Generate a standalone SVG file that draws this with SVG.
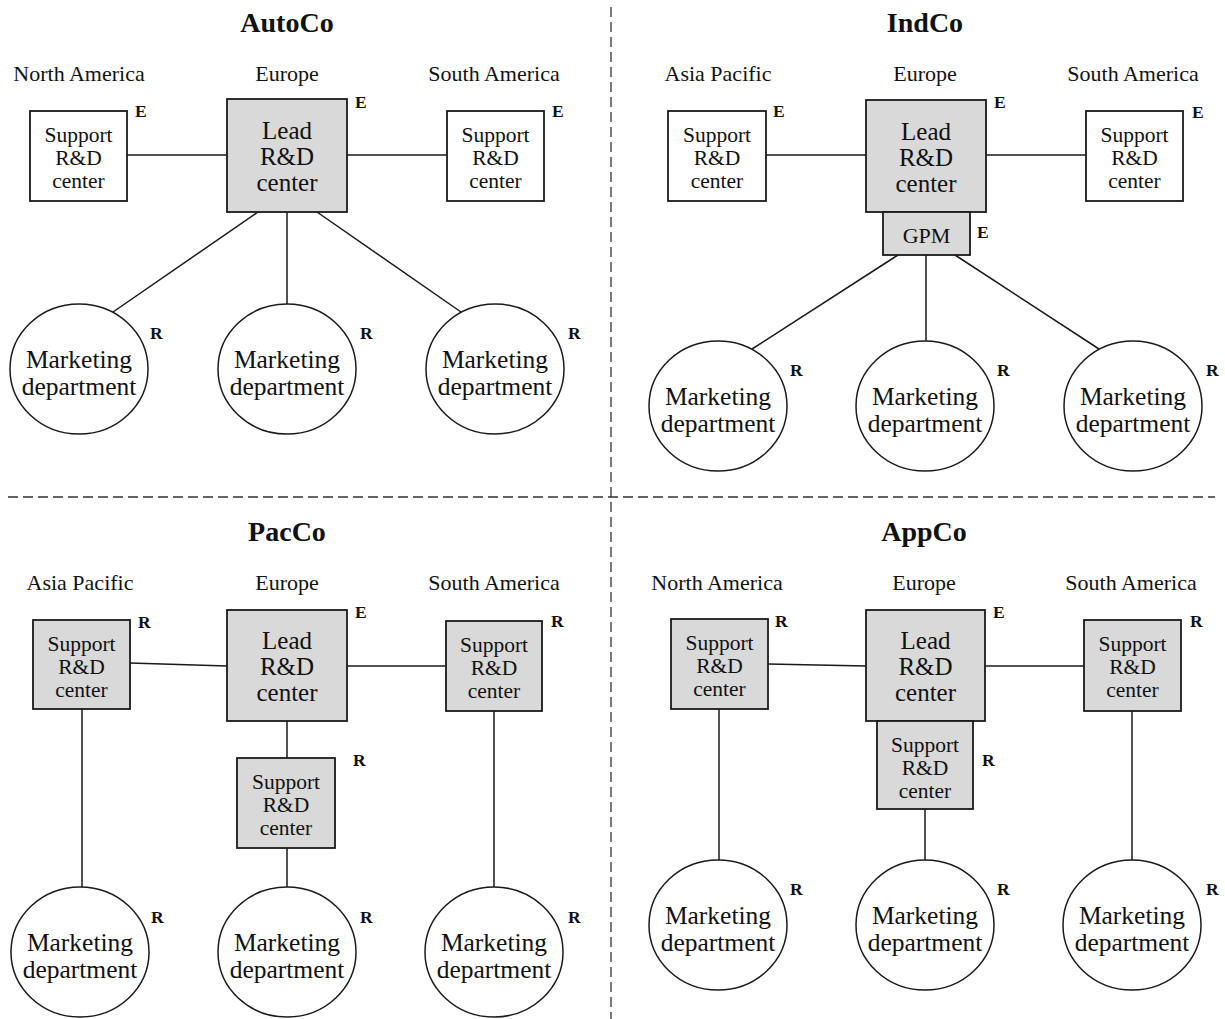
<svg xmlns="http://www.w3.org/2000/svg" width="1225" height="1019" viewBox="0 0 1225 1019">
<style>
text{font-family:"Liberation Serif","Times New Roman",serif;fill:#111}
.title{font-size:28px;font-weight:bold;text-anchor:middle}
.reg{font-size:22px;text-anchor:middle}
.bx{font-size:21.5px;text-anchor:middle}
.ld{font-size:25px;text-anchor:middle}
.mk{font-size:25.5px;text-anchor:middle}
.tag{font-size:17.5px;font-weight:bold}
.w{fill:#fff;stroke:#1a1a1a;stroke-width:1.8}
.g{fill:#d9d9d9;stroke:#1a1a1a;stroke-width:1.8}
.c{fill:#fff;stroke:#1a1a1a;stroke-width:1.5}
.ln{stroke:#1a1a1a;stroke-width:1.5;fill:none}
.dv{stroke:#333;stroke-width:1.3;stroke-dasharray:10 5;fill:none}
</style>
<rect width="1225" height="1019" fill="#fff"/>
<g id="dividers">
<path class="dv" d="M611 7V1019"/>
<path class="dv" d="M8 497H1215"/>
</g>
<g id="labels">
<text class="title" x="287" y="32">AutoCo</text>
<text class="title" x="925" y="32">IndCo</text>
<text class="title" x="287" y="541">PacCo</text>
<text class="title" x="924" y="541">AppCo</text>
<text class="reg" x="79" y="81">North America</text>
<text class="reg" x="287" y="81">Europe</text>
<text class="reg" x="494" y="81">South America</text>
<text class="reg" x="718" y="81">Asia Pacific</text>
<text class="reg" x="925" y="81">Europe</text>
<text class="reg" x="1133" y="81">South America</text>
<text class="reg" x="80" y="590">Asia Pacific</text>
<text class="reg" x="287" y="590">Europe</text>
<text class="reg" x="494" y="590">South America</text>
<text class="reg" x="717" y="590">North America</text>
<text class="reg" x="924" y="590">Europe</text>
<text class="reg" x="1131" y="590">South America</text>
</g>
<g id="connectors">
<path class="ln" d="M127 155H227M347 155H447M258 212L113 312M287 212V304M317 212L461 312"/>
<path class="ln" d="M766 155H866M986 155H1086M898 255L752 349M926 255V341M955 255L1099 349"/>
<path class="ln" d="M130 663L227 666M347 666H446M82 709V887M287 721V758M287 848V887M494 711V887"/>
<path class="ln" d="M768 664L866 666M985 666H1084M719 709V860M925 809V860M1132 711V860"/>
</g>
<!-- AutoCo -->
<g id="a-na"><rect class="w" x="30" y="111" width="97" height="90"/><text class="bx" x="78.5" y="142">Support</text><text class="bx" x="78.5" y="165">R&amp;D</text><text class="bx" x="78.5" y="188">center</text><text class="tag" x="135" y="117">E</text></g>
<g id="a-lead"><rect class="g" x="227" y="99" width="120" height="113"/><text class="ld" x="287" y="139">Lead</text><text class="ld" x="287" y="165">R&amp;D</text><text class="ld" x="287" y="191">center</text><text class="tag" x="355" y="108">E</text></g>
<g id="a-sa"><rect class="w" x="447" y="111" width="97" height="90"/><text class="bx" x="495.5" y="142">Support</text><text class="bx" x="495.5" y="165">R&amp;D</text><text class="bx" x="495.5" y="188">center</text><text class="tag" x="552" y="117">E</text></g>
<g id="a-m1"><ellipse class="c" cx="79" cy="369" rx="69" ry="65"/><text class="mk" x="79" y="368">Marketing</text><text class="mk" x="79" y="395">department</text><text class="tag" x="150" y="339">R</text></g>
<g id="a-m2"><ellipse class="c" cx="287" cy="369" rx="69" ry="65"/><text class="mk" x="287" y="368">Marketing</text><text class="mk" x="287" y="395">department</text><text class="tag" x="360" y="339">R</text></g>
<g id="a-m3"><ellipse class="c" cx="495" cy="369" rx="69" ry="65"/><text class="mk" x="495" y="368">Marketing</text><text class="mk" x="495" y="395">department</text><text class="tag" x="568" y="339">R</text></g>
<!-- IndCo -->
<g id="i-ap"><rect class="w" x="668" y="111" width="98" height="90"/><text class="bx" x="717" y="142">Support</text><text class="bx" x="717" y="165">R&amp;D</text><text class="bx" x="717" y="188">center</text><text class="tag" x="773" y="117">E</text></g>
<g id="i-lead"><rect class="g" x="866" y="100" width="120" height="112"/><text class="ld" x="926" y="140">Lead</text><text class="ld" x="926" y="166">R&amp;D</text><text class="ld" x="926" y="192">center</text><text class="tag" x="994" y="108">E</text></g>
<g id="i-sa"><rect class="w" x="1086" y="111" width="97" height="90"/><text class="bx" x="1134.5" y="142">Support</text><text class="bx" x="1134.5" y="165">R&amp;D</text><text class="bx" x="1134.5" y="188">center</text><text class="tag" x="1192" y="118">E</text></g>
<g id="i-gpm"><rect class="g" x="883" y="212" width="87" height="43"/><text x="926.5" y="243" style="font-size:22px;text-anchor:middle">GPM</text><text class="tag" x="977" y="238">E</text></g>
<g id="i-m1"><ellipse class="c" cx="718" cy="406" rx="69" ry="65"/><text class="mk" x="718" y="405">Marketing</text><text class="mk" x="718" y="432">department</text><text class="tag" x="790" y="376">R</text></g>
<g id="i-m2"><ellipse class="c" cx="925" cy="406" rx="69" ry="65"/><text class="mk" x="925" y="405">Marketing</text><text class="mk" x="925" y="432">department</text><text class="tag" x="997" y="376">R</text></g>
<g id="i-m3"><ellipse class="c" cx="1133" cy="406" rx="69" ry="65"/><text class="mk" x="1133" y="405">Marketing</text><text class="mk" x="1133" y="432">department</text><text class="tag" x="1206" y="376">R</text></g>
<!-- PacCo -->
<g id="p-ap"><rect class="g" x="33" y="620" width="97" height="89"/><text class="bx" x="81.5" y="651">Support</text><text class="bx" x="81.5" y="674">R&amp;D</text><text class="bx" x="81.5" y="697">center</text><text class="tag" x="138" y="628">R</text></g>
<g id="p-lead"><rect class="g" x="227" y="610" width="120" height="111"/><text class="ld" x="287" y="649">Lead</text><text class="ld" x="287" y="675">R&amp;D</text><text class="ld" x="287" y="701">center</text><text class="tag" x="355" y="618">E</text></g>
<g id="p-sa"><rect class="g" x="446" y="621" width="96" height="90"/><text class="bx" x="494" y="652">Support</text><text class="bx" x="494" y="675">R&amp;D</text><text class="bx" x="494" y="698">center</text><text class="tag" x="551" y="627">R</text></g>
<g id="p-mid"><rect class="g" x="237" y="758" width="98" height="90"/><text class="bx" x="286" y="789">Support</text><text class="bx" x="286" y="812">R&amp;D</text><text class="bx" x="286" y="835">center</text><text class="tag" x="353" y="766">R</text></g>
<g id="p-m1"><ellipse class="c" cx="80" cy="952" rx="69" ry="65"/><text class="mk" x="80" y="951">Marketing</text><text class="mk" x="80" y="978">department</text><text class="tag" x="151" y="923">R</text></g>
<g id="p-m2"><ellipse class="c" cx="287" cy="952" rx="69" ry="65"/><text class="mk" x="287" y="951">Marketing</text><text class="mk" x="287" y="978">department</text><text class="tag" x="360" y="923">R</text></g>
<g id="p-m3"><ellipse class="c" cx="494" cy="952" rx="69" ry="65"/><text class="mk" x="494" y="951">Marketing</text><text class="mk" x="494" y="978">department</text><text class="tag" x="568" y="923">R</text></g>
<!-- AppCo -->
<g id="q-na"><rect class="g" x="671" y="619" width="97" height="90"/><text class="bx" x="719.5" y="650">Support</text><text class="bx" x="719.5" y="673">R&amp;D</text><text class="bx" x="719.5" y="696">center</text><text class="tag" x="775" y="627">R</text></g>
<g id="q-lead"><rect class="g" x="866" y="610" width="119" height="111"/><text class="ld" x="925.5" y="649">Lead</text><text class="ld" x="925.5" y="675">R&amp;D</text><text class="ld" x="925.5" y="701">center</text><text class="tag" x="993" y="618">E</text></g>
<g id="q-sa"><rect class="g" x="1084" y="620" width="97" height="91"/><text class="bx" x="1132.5" y="651">Support</text><text class="bx" x="1132.5" y="674">R&amp;D</text><text class="bx" x="1132.5" y="697">center</text><text class="tag" x="1190" y="627">R</text></g>
<g id="q-mid"><rect class="g" x="877" y="721" width="96" height="88"/><text class="bx" x="925" y="752">Support</text><text class="bx" x="925" y="775">R&amp;D</text><text class="bx" x="925" y="798">center</text><text class="tag" x="982" y="766">R</text></g>
<g id="q-m1"><ellipse class="c" cx="718" cy="925" rx="69" ry="65"/><text class="mk" x="718" y="924">Marketing</text><text class="mk" x="718" y="951">department</text><text class="tag" x="790" y="895">R</text></g>
<g id="q-m2"><ellipse class="c" cx="925" cy="925" rx="69" ry="65"/><text class="mk" x="925" y="924">Marketing</text><text class="mk" x="925" y="951">department</text><text class="tag" x="997" y="895">R</text></g>
<g id="q-m3"><ellipse class="c" cx="1132" cy="925" rx="69" ry="65"/><text class="mk" x="1132" y="924">Marketing</text><text class="mk" x="1132" y="951">department</text><text class="tag" x="1206" y="895">R</text></g>
</svg>
